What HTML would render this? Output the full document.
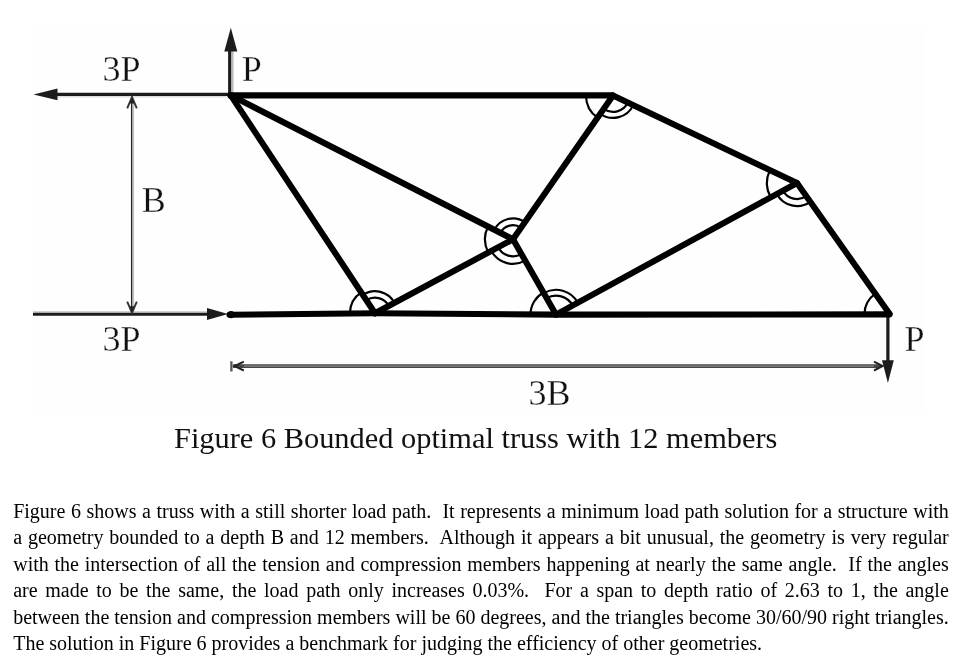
<!DOCTYPE html>
<html>
<head>
<meta charset="utf-8">
<title>Figure 6 Bounded optimal truss with 12 members</title>
<style>
  html, body { margin: 0; padding: 0; background: #ffffff; }
  body { width: 962px; height: 667px; position: relative; overflow: hidden;
         font-family: "Liberation Serif", serif; color: #000; }
  #page { position: absolute; left: 0; top: 0; width: 962px; height: 667px; will-change: transform; }
  #fig { position: absolute; left: 0; top: 0; width: 962px; height: 667px; }
  #fig text { font-family: "Liberation Serif", serif; fill: #111; stroke: #fefefe; stroke-width: 0.3px; }
  .cap { position: absolute; left: 174.4px; top: 421.1px; font-size: 29.2px; line-height: 34px;
         white-space: nowrap; color: #111; transform: scaleX(1.041); transform-origin: 0 0; }
  .ln { position: absolute; left: 13.2px; width: 935.6px; height: 26px; font-size: 20px; line-height: 26px;
        white-space: nowrap; text-align: justify; text-align-last: justify; color: #000; }
  .ln.last { text-align: left; text-align-last: left; width: auto; }
</style>
</head>
<body>
<div id="page">
<svg id="fig" width="962" height="667" viewBox="0 0 962 667">
  <defs>
    <clipPath id="figclip"><rect x="33" y="27.5" width="891.2" height="387"/></clipPath>
  </defs>
  <!-- figure background -->
  <rect x="33" y="27.5" width="891.2" height="387" fill="#fefefe"/>
  <g clip-path="url(#figclip)">

  <!-- thin force lines -->
  <g stroke="#1c1c1c" fill="none" stroke-linecap="butt">
    <line x1="56" y1="96.7" x2="226" y2="96.7" stroke="#dedede" stroke-width="1.6"/>
    <line x1="50" y1="94.4" x2="232" y2="94.4" stroke-width="3.1"/>
    <line x1="33" y1="311.9" x2="208" y2="311.9" stroke="#d2d2d2" stroke-width="1.8"/>
    <line x1="33" y1="314.3" x2="212" y2="314.3" stroke-width="3.1"/>
    <line x1="232.3" y1="50" x2="232.3" y2="93" stroke="#b8b8b8" stroke-width="2.4"/>
    <line x1="229.6" y1="48" x2="229.6" y2="96" stroke-width="3.0"/>
    <line x1="887.9" y1="314" x2="887.9" y2="364" stroke-width="3.2"/>
  </g>
  <g fill="#1c1c1c" stroke="none">
    <polygon points="33.5,94.4 57.5,88.5 57.5,100.3"/>
    <polygon points="228,314.1 207,308.1 207,320.1"/>
    <polygon points="230.8,27.8 224.3,51.6 237.3,51.6"/>
    <polygon points="887.9,383 882,360.3 893.8,360.3"/>
  </g>

  <!-- B dimension (vertical) -->
  <g fill="none">
    <line x1="133.2" y1="99" x2="133.2" y2="310" stroke="#c2c2c2" stroke-width="1.8"/>
    <line x1="131.6" y1="98" x2="131.6" y2="311" stroke="#262626" stroke-width="1.3"/>
    <polyline points="127.2,108.3 132,97 136.8,108.3" stroke="#333" stroke-width="1.9"/>
    <polyline points="127.2,301.6 132,312.8 136.8,301.6" stroke="#333" stroke-width="1.9"/>
    <polygon points="132,97.5 129.6,103.5 134.4,103.5" fill="#222" stroke="none"/>
    <polygon points="132,312.3 129.6,306.3 134.4,306.3" fill="#222" stroke="none"/>
  </g>

  <!-- 3B dimension (horizontal) -->
  <g fill="none">
    <line x1="233" y1="366.1" x2="881" y2="366.1" stroke="#454545" stroke-width="3.9"/>
    <line x1="244" y1="366.1" x2="874" y2="366.1" stroke="#8a8a8a" stroke-width="1.3"/>
    <line x1="231.4" y1="361.2" x2="231.4" y2="371.4" stroke="#555" stroke-width="2.3"/>
    <polyline points="243.8,361.7 234.6,366.1 243.8,370.5" stroke="#222" stroke-width="2"/>
    <polyline points="874,361.7 882.6,366.1 874,370.5" stroke="#222" stroke-width="2"/>
  </g>

  <!-- truss members -->
  <g stroke="#000" stroke-width="6.1" stroke-linecap="round" stroke-linejoin="round" fill="none">
    <polyline points="230.8,95.4 613,95.4 797,183 889.5,313.8"/>
    <polyline points="229.5,314.8 375,313.2 556,314.6 889.5,314.4"/>
    <line x1="230.8" y1="95.4" x2="375" y2="313.2"/>
    <line x1="230.8" y1="95.4" x2="513" y2="239.3"/>
    <line x1="375" y1="313.2" x2="513" y2="239.3"/>
    <line x1="513" y1="239.3" x2="613" y2="95.4"/>
    <line x1="513" y1="239.3" x2="556" y2="314.6"/>
    <line x1="556" y1="314.6" x2="797" y2="183"/>
  </g>
  <circle cx="231" cy="314.6" r="3.6" fill="#000"/>
  <circle cx="230.8" cy="95.6" r="3.4" fill="#000"/>

  <!-- angle arcs -->
  <g id="arcs" stroke="#000" stroke-width="2.2" fill="none">
    <path d="M586.0,95.4 A27.0,27.0 0 0 0 597.6,117.6"/>
    <path d="M603.6,108.9 A16.5,16.5 0 0 0 627.9,102.5"/>
    <path d="M600.2,113.9 A22.5,22.5 0 0 0 633.3,105.1"/>
    <path d="M500.5,232.9 A14.0,14.0 0 0 1 521.0,227.8"/>
    <path d="M494.3,229.8 A21.0,21.0 0 0 1 525.0,222.1"/>
    <path d="M488.1,226.6 A28.0,28.0 0 0 0 488.3,252.5"/>
    <path d="M498.0,247.3 A17.0,17.0 0 0 0 521.4,254.1"/>
    <path d="M491.4,250.9 A24.5,24.5 0 0 0 525.1,260.6"/>
    <path d="M350.0,313.2 A25.0,25.0 0 0 1 361.2,292.4"/>
    <path d="M366.4,300.3 A15.5,15.5 0 0 1 388.7,305.9"/>
    <path d="M362.9,294.9 A22.0,22.0 0 0 1 394.4,302.8"/>
    <path d="M530.5,314.6 A25.5,25.5 0 0 1 543.4,292.5"/>
    <path d="M546.6,298.1 A19.0,19.0 0 0 1 572.7,305.5"/>
    <path d="M543.7,293.1 A24.8,24.8 0 0 1 577.8,302.7"/>
    <path d="M769.9,170.1 A30.0,30.0 0 0 0 770.7,197.4"/>
    <path d="M783.0,190.7 A16.0,16.0 0 0 0 806.2,196.1"/>
    <path d="M776.8,194.0 A23.0,23.0 0 0 0 810.3,201.8"/>
    <path d="M864.5,314.2 A25.0,25.0 0 0 1 875.1,293.8"/>
  </g>

  <!-- labels -->
  <text x="102.6" y="81" font-size="36">3P</text>
  <text x="241.8" y="81" font-size="36">P</text>
  <text x="141.8" y="211.5" font-size="36">B</text>
  <text x="102.6" y="351" font-size="36">3P</text>
  <text x="528.6" y="404.5" font-size="36">3B</text>
  <text x="904.6" y="351" font-size="36">P</text>
  </g>
</svg>

<div class="cap">Figure 6 Bounded optimal truss with 12 members</div>

<div class="ln" style="top:498.0px">Figure 6 shows a truss with a still shorter load path.&nbsp; It represents a minimum load path solution for a structure with</div>
<div class="ln" style="top:524.4px">a geometry bounded to a depth B and 12 members.&nbsp; Although it appears a bit unusual, the geometry is very regular</div>
<div class="ln" style="top:550.8px">with the intersection of all the tension and compression members happening at nearly the same angle.&nbsp; If the angles</div>
<div class="ln" style="top:577.2px">are made to be the same, the load path only increases 0.03%.&nbsp; For a span to depth ratio of 2.63 to 1, the angle</div>
<div class="ln" style="top:603.6px">between the tension and compression members will be 60 degrees, and the triangles become 30/60/90 right triangles.</div>
<div class="ln last" style="top:630.0px">The solution in Figure 6 provides a benchmark for judging the efficiency of other geometries.</div>
</div>
</body>
</html>
